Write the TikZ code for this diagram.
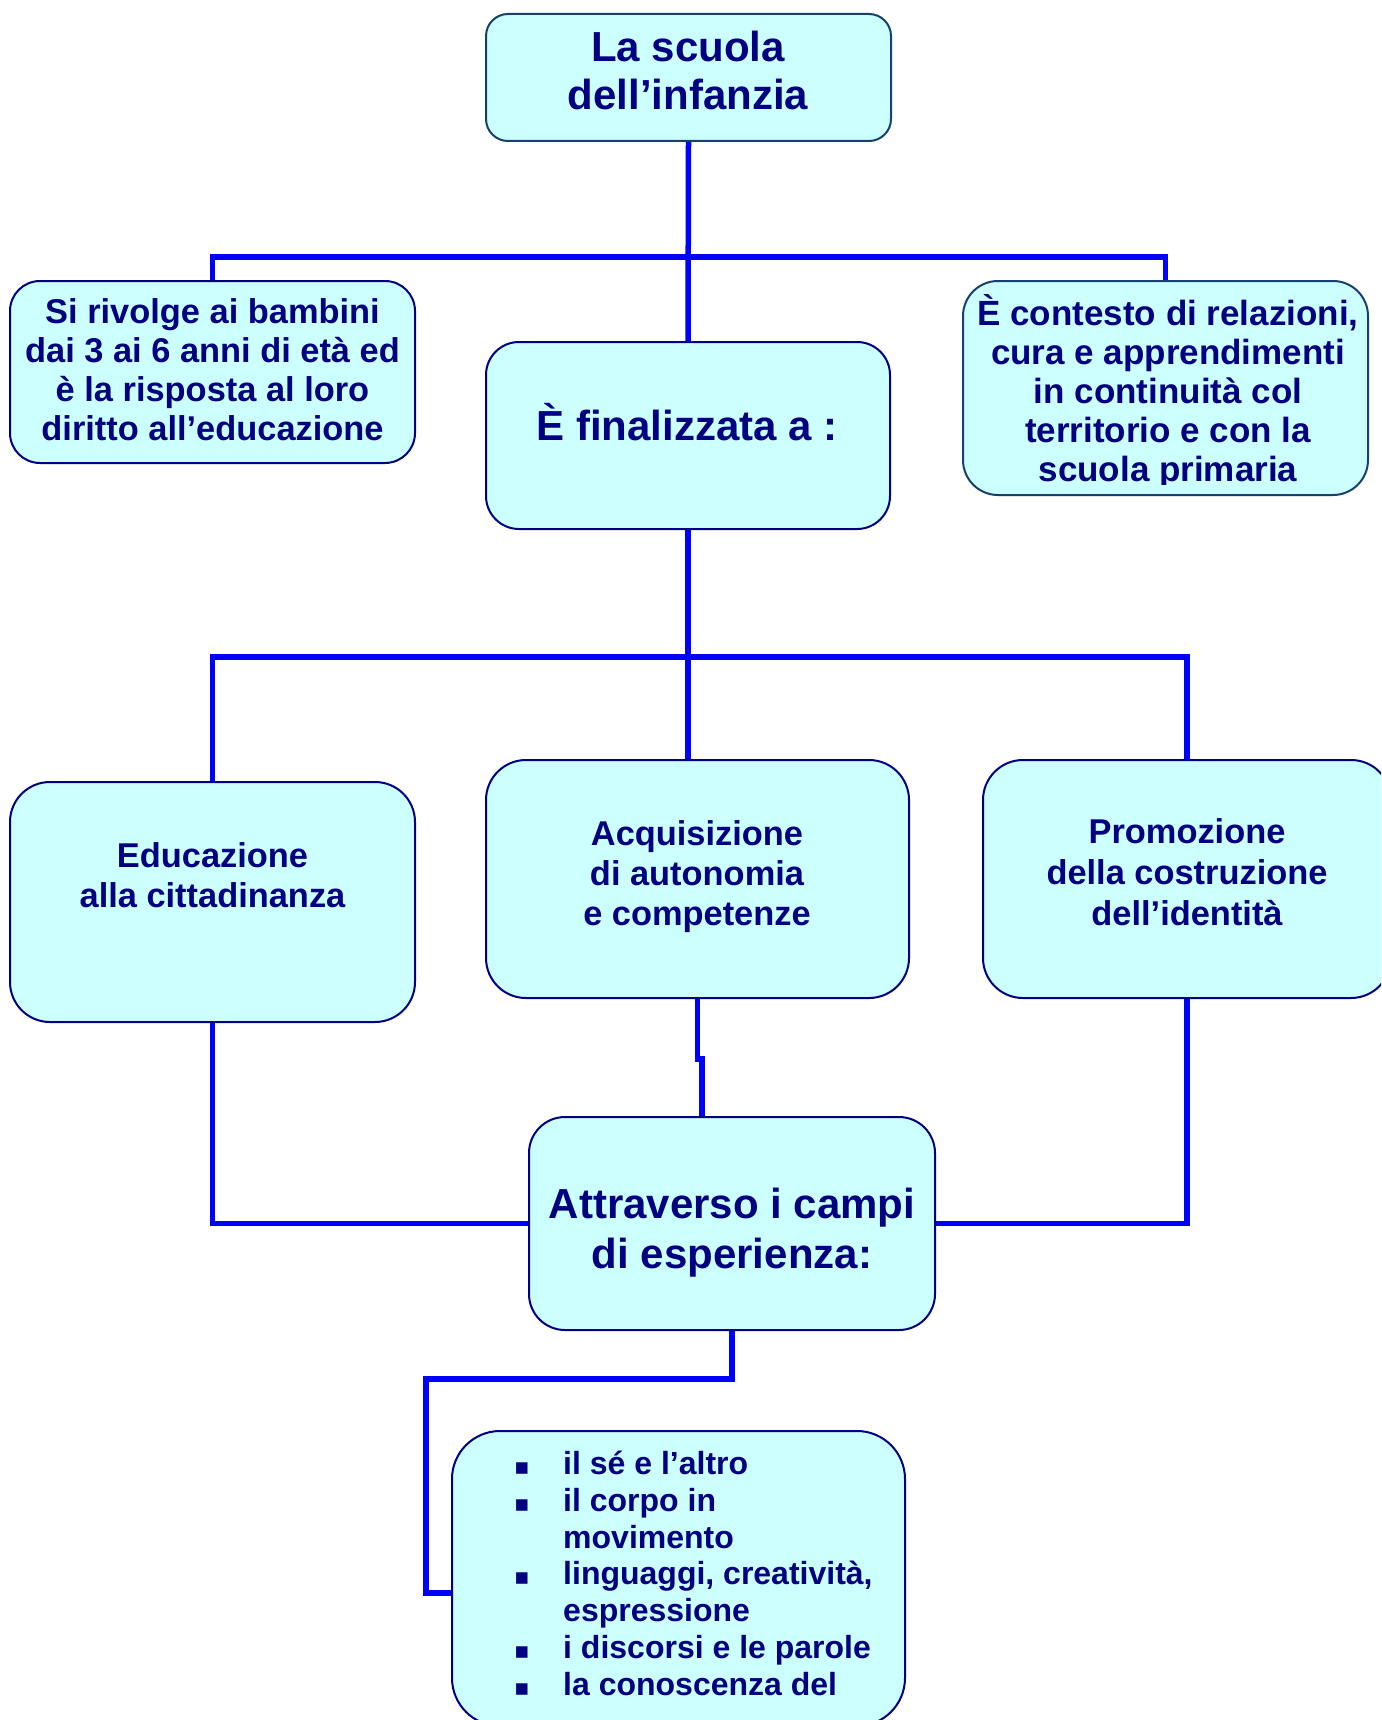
\documentclass[tikz,border=0pt]{standalone}
\usepackage{fontspec}
\setmainfont{Liberation Sans}
\newfontfamily\bulletfont{DejaVu Sans}
\usetikzlibrary{backgrounds}
\definecolor{boxfill}{HTML}{CCFFFF}
\definecolor{navytext}{HTML}{000080}
\definecolor{edgenavy}{HTML}{000080}
\definecolor{edgedark}{HTML}{17406E}
\definecolor{linkblue}{HTML}{0000FF}
\newcommand{\myfs}[2]{\fontsize{#1}{#2}\selectfont\bfseries}
\newcommand{\blt}{\makebox[49pt][l]{\bulletfont\fontsize{23}{23}\selectfont ▪}}
\tikzset{
  box/.style={rectangle, draw=edgenavy, line width=2pt, fill=boxfill, rounded corners=#1, inner sep=0pt},
  link/.style={draw=linkblue, line width=5.5pt},
  txt/.style={text=navytext, align=center, inner sep=0pt, anchor=base},
}
\begin{document}
\begin{tikzpicture}[x=1pt,y=-1pt]
\useasboundingbox (0,0) rectangle (1381,1720);
\clip (0,0) rectangle (1381,1720);

% boxes
\node[box=22pt, draw=edgedark, minimum width=405pt, minimum height=127pt] (top) at (688.5,77.5) {};
\node[box=30pt, minimum width=405pt, minimum height=182pt] (b1) at (212.5,372) {};
\node[box=33pt, minimum width=404pt, minimum height=187pt] (fin) at (688,435.5) {};
\node[box=35pt, draw=edgedark, minimum width=405pt, minimum height=214pt] (b3) at (1165.5,388) {};
\node[box=40pt, minimum width=405pt, minimum height=240pt] (e1) at (212.5,902) {};
\node[box=40pt, minimum width=423pt, minimum height=238pt] (e2) at (697.5,879) {};
\node[box=40pt, minimum width=408pt, minimum height=238pt] (e3) at (1187,879) {};
\node[box=36pt, minimum width=406pt, minimum height=213pt] (att) at (732,1223.5) {};
\node[box=48pt, minimum width=453pt, minimum height=295pt] (lst) at (678.5,1578.5) {};

% texts (anchor = baseline of the last line)
\node[txt, font=\myfs{42}{48}] (ttop) at (688,110) {La scuola\\dell’infanzia};
\node[txt, font=\myfs{34.4}{39}] (tb1) at (212.5,440) {Si rivolge ai bambini\\dai 3 ai 6 anni di età ed\\è la risposta al loro\\diritto all’educazione};
\node[txt, font=\myfs{42}{48}] (tfin) at (687,440) {È finalizzata a :};
\begin{scope}
\clip (963,281) rectangle (1368,484);
\node[txt, font=\myfs{35}{39}] (tb3) at (1168,481) {È contesto di relazioni,\\cura e apprendimenti\\in continuità col\\territorio e con la\\scuola primaria};
\end{scope}
\node[txt, font=\myfs{34.4}{40}] (te1) at (212.5,907) {Educazione\\alla cittadinanza};
\node[txt, font=\myfs{34.4}{40}] (te2) at (697,925) {Acquisizione\\di autonomia\\e competenze};
\node[txt, font=\myfs{34.4}{41}] (te3) at (1187,925) {Promozione\\della costruzione\\dell’identità};
\node[txt, font=\myfs{42}{50}] (tatt) at (732,1268) {Attraverso i campi\\di esperienza:};
\node[txt, align=left, anchor=base west, font=\myfs{32}{36.7}] (tlst) at (514,1695)
  {\blt il sé e l’altro\\
   \blt il corpo in\\
   \hspace*{49pt}movimento\\
   \blt linguaggi, creatività,\\
   \hspace*{49pt}espressione\\
   \blt i discorsi e le parole\\
   \blt la conoscenza del};

% connectors
\coordinate (j1) at (688,257);
\coordinate (j2) at (688,657);
\coordinate (k1) at (697.5,1059);
\coordinate (k2) at (702,1059);
\coordinate (m1) at (426,1379);
\coordinate (m2) at (426,1593);
\begin{scope}[on background layer]
\draw[link] (top.south) -- (fin.north);
\draw[link] (b1.north) |- (j1) -| (b3.north);
\draw[link] (fin.south) -- (j2);
\draw[link] (e1.north) |- (j2) -| (e3.north);
\draw[link] (j2) -- (e2.north -| j2);
\draw[link] (e2.south) -- (k1) -- (k2) -- (att.north -| k2);
\draw[link] (e1.south) |- (att.west);
\draw[link] (e3.south) |- (att.east);
\draw[link] (att.south) |- (m1) -- (m2) -- (m2 -| lst.west);
\end{scope}
\end{tikzpicture}
\end{document}
